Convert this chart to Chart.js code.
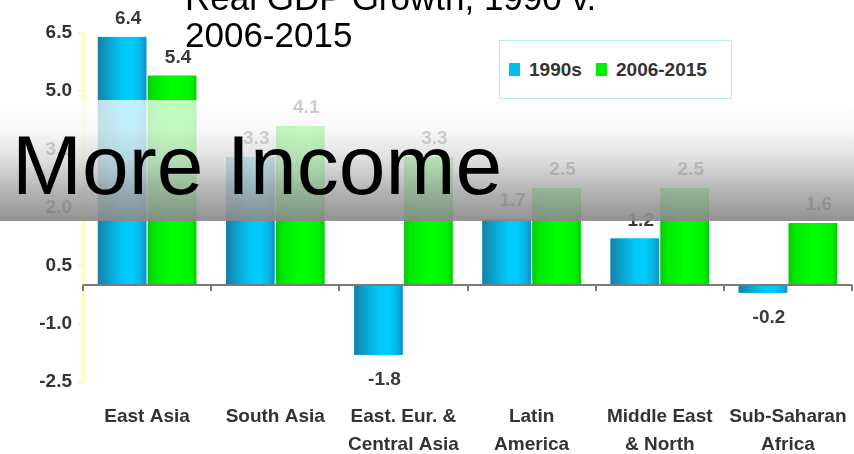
<!DOCTYPE html>
<html>
<head>
<meta charset="utf-8">
<script src="https://cdn.jsdelivr.net/npm/chart.js@4.4.1/dist/chart.umd.min.js"></script>
<style>
html,body{margin:0;padding:0;width:854px;height:454px;overflow:hidden;background:#fff;font-family:"Liberation Sans",Arial,sans-serif;}
#wrap{position:relative;width:854px;height:454px;overflow:hidden;}
#chart{position:absolute;left:0;top:0;}
#title{position:absolute;left:185px;top:-21px;font-size:35px;line-height:37px;color:#000;white-space:nowrap;z-index:3;}
#legend{position:absolute;left:499px;top:40px;width:231px;height:57px;border:1.5px solid #b4e9ff;background:#fff;z-index:1;}
.li{position:absolute;top:0;height:57px;display:flex;align-items:center;font-weight:bold;font-size:19px;color:#333;}
.sw{display:inline-block;width:11px;height:13px;margin-right:9px;}
#band{position:absolute;left:0;top:100px;width:854px;height:121px;z-index:2;
background:linear-gradient(to bottom,rgba(255,255,255,0.74) 0%,rgba(246,246,246,0.78) 25%,rgba(215,215,215,0.83) 50%,rgba(170,170,170,0.88) 75%,rgba(136,136,136,0.92) 100%);}
#big{position:absolute;left:12px;top:123px;font-size:84px;line-height:84px;color:#000;white-space:nowrap;z-index:3;}
</style>
</head>
<body>
<div id="wrap">
<canvas id="chart" width="854" height="454"></canvas>
<div id="legend"></div>
<div id="band"></div>
<div id="title">Real GDP Growth, 1990 v.<br>2006-2015</div>
<div id="big">More Income</div>
</div>
<script>
// ---- data ----
const categories = [["East Asia"], ["South Asia"], ["East. Eur. &", "Central Asia"], ["Latin", "America"], ["Middle East", "& North"], ["Sub-Saharan", "Africa"]];
const seriesNames = ["1990s", "2006-2015"];
const values1990s = [6.4, 3.3, -1.8, 1.7, 1.2, -0.2];
const values2006 = [5.4, 4.1, 3.3, 2.5, 2.5, 1.6];
const yTicks = [-2.5, -1.0, 0.5, 2.0, 3.5, 5.0, 6.5];

// ---- styles ----
const baseColors = ["#00c0f0", "#00f000"];
const gradStops = [
  [[0, "#1a7fa3"], [0.18, "#0b9cc6"], [0.5, "#00c6f6"], [0.7, "#00cdff"], [0.88, "#04b6e6"], [1, "#1590b8"]],
  [[0, "#10c410"], [0.12, "#00e800"], [0.5, "#00ff00"], [0.88, "#00f200"], [1, "#08cc08"]]
];
const legendX = [9, 96];

// HTML legend built from series names
const lg = document.getElementById('legend');
seriesNames.forEach((n, i) => {
  const d = document.createElement('div');
  d.className = 'li';
  d.style.left = legendX[i] + 'px';
  d.innerHTML = '<span class="sw" style="background:' + baseColors[i] + '"></span>' + n;
  lg.appendChild(d);
});

const barPaint = {
  id: 'barPaint',
  afterDatasetsDraw(chart) {
    const ctx = chart.ctx;
    const ys = chart.scales.y;
    const area = chart.chartArea;
    ctx.save();
    chart.data.datasets.forEach((ds, di) => {
      const meta = chart.getDatasetMeta(di);
      meta.data.forEach((el) => {
        const p = el.getProps(['x', 'y', 'base', 'width'], true);
        const l = p.x - p.width / 2, r = p.x + p.width / 2;
        const g = ctx.createLinearGradient(l, 0, r, 0);
        gradStops[di].forEach(s => g.addColorStop(s[0], s[1]));
        ctx.fillStyle = g;
        ctx.fillRect(l, Math.min(p.y, p.base), p.width, Math.abs(p.base - p.y));
      });
    });
    // zero axis line with category ticks
    const y0 = ys.getPixelForValue(0);
    ctx.strokeStyle = '#7a7a7a';
    ctx.lineWidth = 2;
    ctx.beginPath();
    ctx.moveTo(area.left, y0);
    ctx.lineTo(area.right, y0);
    ctx.stroke();
    const n = categories.length;
    const step = (area.right - area.left) / n;
    for (let i = 0; i <= n; i++) {
      const x = Math.round(area.left + i * step);
      ctx.beginPath();
      ctx.moveTo(x, y0);
      ctx.lineTo(x, y0 + 6);
      ctx.stroke();
    }
    // value labels
    ctx.font = 'bold 19px "Liberation Sans", Arial, sans-serif';
    ctx.fillStyle = '#3a3a3a';
    ctx.textAlign = 'center';
    ctx.textBaseline = 'middle';
    chart.data.datasets.forEach((ds, di) => {
      const meta = chart.getDatasetMeta(di);
      meta.data.forEach((el, i) => {
        const v = ds.data[i];
        const p = el.getProps(['x', 'y'], true);
        const ty = v >= 0 ? p.y - 18 : p.y + 25;
        ctx.fillText(v.toFixed(1), p.x + 6, ty);
      });
    });
    ctx.restore();
  }
};

new Chart(document.getElementById('chart'), {
  type: 'bar',
  data: {
    labels: categories,
    datasets: [
      { label: seriesNames[0], data: values1990s, backgroundColor: baseColors[0], borderWidth: 0, categoryPercentage: 0.78, barPercentage: 0.97 },
      { label: seriesNames[1], data: values2006, backgroundColor: baseColors[1], borderWidth: 0, categoryPercentage: 0.78, barPercentage: 0.97 }
    ]
  },
  options: {
    responsive: false,
    animation: false,
    layout: { padding: { top: 33, right: 2, bottom: 0, left: 0 } },
    plugins: { legend: { display: false }, tooltip: { enabled: false }, title: { display: false } },
    scales: {
      x: {
        grid: { display: false, drawTicks: false },
        border: { display: false },
        ticks: {
          color: '#333',
          padding: 21,
          maxRotation: 0,
          autoSkip: false,
          font: { family: '"Liberation Sans", Arial, sans-serif', size: 19, weight: 'bold', lineHeight: 1.474 }
        },
        afterFit(s) { s.height = 72; s.paddingLeft = 0; s.paddingRight = 0; }
      },
      y: {
        min: -2.5,
        max: 6.5,
        afterBuildTicks(s) { s.ticks = yTicks.map(v => ({ value: v })); },
        grid: { drawOnChartArea: false, color: '#fff7b8', lineWidth: 2, tickLength: 5 },
        border: { color: '#fffac0', width: 3 },
        ticks: {
          color: '#333',
          padding: 6,
          font: { family: '"Liberation Sans", Arial, sans-serif', size: 19, weight: 'bold' },
          callback: v => Number(v).toFixed(1)
        },
        afterFit(s) { s.width = 83; s.paddingTop = 0; s.paddingBottom = 0; }
      }
    }
  },
  plugins: [barPaint]
});
</script>
</body>
</html>
